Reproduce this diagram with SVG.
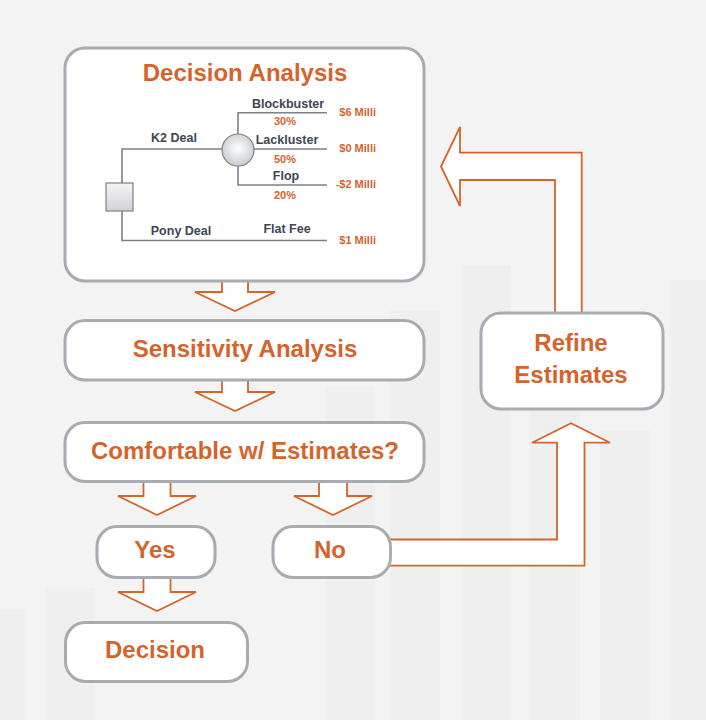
<svg xmlns="http://www.w3.org/2000/svg" width="706" height="720" viewBox="0 0 706 720">
<defs>
<style>
.box{fill:#ffffff;stroke:#a8abb0;stroke-width:3}
.arr{fill:#ffffff;stroke:#d4642c;stroke-width:1.8;stroke-linejoin:miter}
.main{font-family:"Liberation Sans",Arial,sans-serif;font-weight:bold;font-size:24px;fill:#d4642c;text-anchor:middle}
.lbl{font-family:"Liberation Sans",Arial,sans-serif;font-weight:bold;font-size:12.5px;fill:#404654;text-anchor:middle}
.pct{font-family:"Liberation Sans",Arial,sans-serif;font-weight:bold;font-size:11px;fill:#d4642c;text-anchor:middle}
.val{font-family:"Liberation Sans",Arial,sans-serif;font-weight:bold;font-size:11px;fill:#d4642c;text-anchor:end}
.tree{fill:none;stroke:#7c8088;stroke-width:1.6}
.bar{fill:#efefef}
</style>
<radialGradient id="gCircle" cx="0.5" cy="0.45" r="0.6">
<stop offset="0" stop-color="#ffffff"/>
<stop offset="1" stop-color="#c4c6ca"/>
</radialGradient>
<linearGradient id="gSquare" x1="0" y1="0" x2="0" y2="1">
<stop offset="0" stop-color="#f4f4f6"/>
<stop offset="1" stop-color="#d2d3d7"/>
</linearGradient>
</defs>
<rect x="0" y="0" width="706" height="720" fill="#f3f3f3"/>
<g id="background">
<rect class="bar" x="0" y="610" width="25" height="110" fill="#ececec"/>
<rect class="bar" x="45" y="588" width="50" height="132"/>
<rect class="bar" x="325" y="387" width="50" height="333" fill="#f0f0f0"/>
<rect class="bar" x="390" y="310" width="50" height="410" fill="#f0f0f0"/>
<rect class="bar" x="462" y="265" width="49" height="455"/>
<rect class="bar" x="530" y="410" width="50" height="310" fill="#f1f1f1"/>
<rect class="bar" x="600" y="430" width="50" height="290" fill="#f0f0f0"/>
<rect class="bar" x="670" y="280" width="36" height="440"/>
</g>
<g id="connectors">
<path class="arr" d="M222,280 V292 H195 L235,311 L275,292 H248 V280"/>
<path class="arr" d="M222,379 V392 H195 L235,411 L275,392 H248 V379"/>
<path class="arr" d="M143.5,480 V496 H118 L157,515 L196,496 H170.5 V480"/>
<path class="arr" d="M319,480 V496 H294 L333,515 L372,496 H347 V480"/>
<path class="arr" d="M143.5,576 V592 H118 L157,611 L196,592 H170.5 V576"/>
<path class="arr" d="M388,539.5 H557 V442.7 H532 L571,423.3 L610,442.7 H584.5 V565.7 H388"/>
<path class="arr" d="M555,315 V180 H460 V206 L441,166.5 L460,127 V152.7 H581.7 V315"/>
</g>
<g id="node-decision-analysis">
<rect class="box" x="65" y="48" width="359" height="233" rx="20"/>
<text class="main" x="245" y="81">Decision Analysis</text>
<g id="tree">
<path class="tree" d="M122,183 V149 H222"/>
<path class="tree" d="M122,211 V240.5 H327"/>
<path class="tree" d="M238,134 V112.7 H327"/>
<path class="tree" d="M254,149 H327"/>
<path class="tree" d="M238,166 V185 H327"/>
<rect x="106" y="183" width="27" height="28" fill="url(#gSquare)" stroke="#7c8088" stroke-width="1.2"/>
<circle cx="238" cy="150" r="16" fill="url(#gCircle)" stroke="#7c8088" stroke-width="1.2"/>
<text class="lbl" x="174" y="142">K2 Deal</text>
<text class="lbl" x="181" y="235">Pony Deal</text>
<text class="lbl" x="288" y="107.5">Blockbuster</text>
<text class="lbl" x="287" y="144">Lackluster</text>
<text class="lbl" x="286" y="180">Flop</text>
<text class="lbl" x="287" y="233">Flat Fee</text>
<text class="pct" x="285" y="125">30%</text>
<text class="pct" x="285" y="163">50%</text>
<text class="pct" x="285" y="199">20%</text>
<text class="val" x="376" y="116">$6 Milli</text>
<text class="val" x="376" y="152">$0 Milli</text>
<text class="val" x="376" y="188">-$2 Milli</text>
<text class="val" x="376" y="244">$1 Milli</text>
</g>
</g>
<g id="node-sensitivity">
<rect class="box" x="65" y="320.5" width="359" height="59.5" rx="20"/>
<text class="main" x="245" y="357">Sensitivity Analysis</text>
</g>
<g id="node-comfortable">
<rect class="box" x="65" y="422.5" width="359" height="59" rx="20"/>
<text class="main" x="245" y="458.5">Comfortable w/ Estimates?</text>
</g>
<g id="node-yes">
<rect class="box" x="97" y="526.5" width="118" height="51" rx="20"/>
<text class="main" x="155" y="558">Yes</text>
</g>
<g id="node-no">
<rect class="box" x="273" y="526.5" width="117.5" height="51" rx="20"/>
<text class="main" x="330" y="558">No</text>
</g>
<g id="node-decision">
<rect class="box" x="65.5" y="622.5" width="182" height="59" rx="20"/>
<text class="main" x="155" y="658">Decision</text>
</g>
<g id="node-refine">
<rect class="box" x="481" y="313" width="182" height="96" rx="20"/>
<text class="main" x="571" y="351">Refine</text>
<text class="main" x="571" y="383">Estimates</text>
</g>
</svg>
